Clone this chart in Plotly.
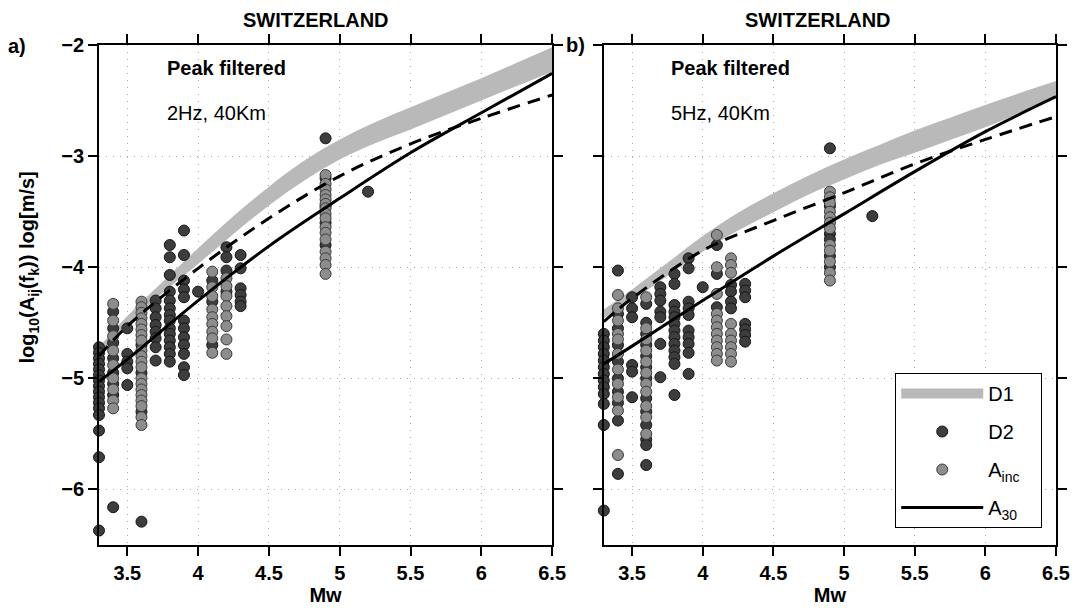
import plotly.graph_objects as go

# ---------------- data ----------------
mw_ticks = [3.5, 4, 4.5, 5, 5.5, 6, 6.5]
mw_tick_text = ["3.5", "4", "4.5", "5", "5.5", "6", "6.5"]
y_ticks = [-2, -3, -4, -5, -6]

# model curves (Mw nodes)
mw_curve = [3.3, 3.5, 4.0, 4.5, 5.0, 5.5, 6.0, 6.5]
# panel a (2 Hz)
a_A30 = [-5.03, -4.83, -4.30, -3.81, -3.38, -2.97, -2.61, -2.255]
a_dash = [-4.80, -4.53, -4.01, -3.56, -3.18, -2.89, -2.66, -2.45]
# panel b (5 Hz)
b_A30 = [-4.87, -4.71, -4.30, -3.90, -3.52, -3.14, -2.78, -2.465]
b_dash = [-4.49, -4.28, -3.85, -3.58, -3.33, -3.07, -2.85, -2.645]

# D1 band edges (finer Mw nodes)
mw_band = [3.3, 3.5, 3.75, 4.0, 4.25, 4.5, 4.75, 5.0, 5.25, 5.5, 5.75, 6.0, 6.25, 6.5]
a_D1_hi = [-4.72, -4.44, -4.13, -3.83, -3.54, -3.275, -3.04, -2.85, -2.695, -2.56, -2.43, -2.30, -2.16, -2.02]
a_D1_lo = [-4.78, -4.52, -4.23, -3.97, -3.70, -3.445, -3.22, -3.03, -2.885, -2.76, -2.63, -2.50, -2.37, -2.24]
b_D1_hi = [-4.38, -4.20, -3.96, -3.72, -3.51, -3.335, -3.175, -3.03, -2.90, -2.77, -2.655, -2.54, -2.43, -2.325]
b_D1_lo = [-4.46, -4.30, -4.08, -3.86, -3.67, -3.505, -3.345, -3.21, -3.08, -2.97, -2.855, -2.74, -2.61, -2.475]

# observations: Mw -> values
a_D2 = {
    3.3: [-4.72, -4.77, -4.82, -4.87, -4.92, -4.97, -5.02, -5.07, -5.12, -5.17, -5.22, -5.27, -5.33, -5.47, -5.71, -6.37],
    3.4: [-4.40, -4.55, -4.68, -4.82, -4.95, -5.05, -5.15, -6.16],
    3.5: [-4.55, -4.78, -4.85, -4.91, -5.06],
    3.6: [-4.70, -4.95, -5.30, -6.29],
    3.7: [-4.30, -4.37, -4.45, -4.52, -4.58, -4.64, -4.72, -4.84],
    3.8: [-3.80, -3.91, -4.07, -4.22, -4.30, -4.37, -4.43, -4.48, -4.55, -4.60, -4.66, -4.72, -4.78, -4.85],
    3.9: [-3.67, -3.89, -4.12, -4.20, -4.27, -4.48, -4.55, -4.63, -4.70, -4.78, -4.90, -4.97],
    4.0: [-4.22],
    4.1: [-4.12, -4.31, -4.70],
    4.2: [-3.82, -3.91, -4.03, -4.22],
    4.3: [-3.89, -4.01, -4.19, -4.25, -4.31, -4.35],
    4.9: [-2.84, -3.20, -3.45, -3.60, -3.80],
    5.2: [-3.32],
}
a_Ainc = {
    3.4: [-4.33, -4.48, -4.62, -4.75, -4.88, -5.00, -5.10, -5.20, -5.27],
    3.6: [-4.31, -4.36, -4.41, -4.46, -4.51, -4.56, -4.61, -4.66, -4.75, -4.80, -4.85, -4.90,
          -5.00, -5.05, -5.10, -5.15, -5.20, -5.25, -5.35, -5.42],
    4.1: [-4.04, -4.18, -4.26, -4.38, -4.45, -4.51, -4.58, -4.64, -4.77],
    4.2: [-4.10, -4.17, -4.26, -4.35, -4.44, -4.53, -4.65, -4.78],
    4.9: [-3.17, -3.25, -3.30, -3.35, -3.39, -3.43, -3.47, -3.52, -3.56, -3.64, -3.69, -3.75,
          -3.86, -3.92, -3.98, -4.06],
}
b_D2 = {
    3.3: [-4.60, -4.66, -4.72, -4.78, -4.84, -4.90, -4.96, -5.02, -5.08, -5.14, -5.23, -5.42, -6.19],
    3.4: [-4.03, -4.42, -4.55, -4.70, -4.85, -5.00, -5.12, -5.22, -5.38, -5.86],
    3.5: [-4.27, -4.37, -4.45, -4.88, -4.94, -5.17],
    3.6: [-4.33, -4.50, -4.60, -4.70, -4.80, -4.90, -5.00, -5.18, -5.30, -5.42, -5.55, -5.60, -5.78],
    3.7: [-4.18, -4.24, -4.30, -4.40, -4.45, -4.69, -4.99],
    3.8: [-4.06, -4.15, -4.34, -4.40, -4.45, -4.51, -4.57, -4.63, -4.69, -4.75, -4.81, -4.87, -5.15],
    3.9: [-3.92, -4.01, -4.31, -4.37, -4.43, -4.57, -4.63, -4.69, -4.77, -4.96],
    4.0: [-4.18],
    4.1: [-3.80, -4.06, -4.36],
    4.2: [-4.16, -4.22, -4.31, -4.37],
    4.3: [-4.15, -4.21, -4.27, -4.51, -4.56, -4.61, -4.67],
    4.9: [-2.93, -3.45, -3.70, -3.75, -3.90, -4.00],
    5.2: [-3.54],
}
b_Ainc = {
    3.4: [-4.25, -4.37, -4.48, -4.60, -4.65, -4.78, -4.92, -5.05, -5.17, -5.29, -5.69],
    3.6: [-4.27, -4.55, -4.65, -4.75, -4.85, -4.95, -5.05, -5.12, -5.25, -5.35, -5.50],
    4.1: [-3.71, -4.00, -4.24, -4.42, -4.48, -4.54, -4.60, -4.66, -4.72, -4.78, -4.84],
    4.2: [-3.92, -3.98, -4.05, -4.51, -4.60, -4.66, -4.72, -4.78, -4.85],
    4.9: [-3.32, -3.37, -3.42, -3.50, -3.55, -3.60, -3.65, -3.80, -3.85, -3.95, -4.05, -4.12],
}

# ---------------- styles ----------------
FONT = "Liberation Sans, Arial, Helvetica, sans-serif"
BAND = "#b9b9b9"
DARK_FILL, DARK_EDGE = "#3d3d3d", "#151515"
GRAY_FILL, GRAY_EDGE = "#8d8d8d", "#3a3a3a"
MSIZE = 11


def flat(d):
    xs, ys = [], []
    for k, vals in d.items():
        xs += [k] * len(vals)
        ys += vals
    return xs, ys


fig = go.Figure()

# legend-only entry for the D1 band
fig.add_trace(go.Scatter(x=[None], y=[None], mode="lines", name="D1",
                         line=dict(color=BAND, width=18), legendgroup="g1"))

panels = [
    ("x", "y", a_D1_lo, a_D1_hi, a_D2, a_Ainc, a_A30, a_dash, True),
    ("x2", "y2", b_D1_lo, b_D1_hi, b_D2, b_Ainc, b_A30, b_dash, False),
]
for xa, ya, lo, hi, d2, ainc, a30, dash, leg in panels:
    fig.add_trace(go.Scatter(x=mw_band, y=lo, xaxis=xa, yaxis=ya, mode="lines",
                             line=dict(width=0, shape="spline", color=BAND),
                             showlegend=False, hoverinfo="skip", legendgroup="g1"))
    fig.add_trace(go.Scatter(x=mw_band, y=hi, xaxis=xa, yaxis=ya, mode="lines",
                             line=dict(width=0, shape="spline", color=BAND),
                             fill="tonexty", fillcolor=BAND,
                             showlegend=False, hoverinfo="skip", legendgroup="g1"))
    xs, ys = flat(d2)
    fig.add_trace(go.Scatter(x=xs, y=ys, xaxis=xa, yaxis=ya, mode="markers", name="D2",
                             marker=dict(size=MSIZE, color=DARK_FILL,
                                         line=dict(color=DARK_EDGE, width=1)),
                             cliponaxis=False, showlegend=leg, legendgroup="g2"))
    xs, ys = flat(ainc)
    fig.add_trace(go.Scatter(x=xs, y=ys, xaxis=xa, yaxis=ya, mode="markers",
                             name="A<sub>inc</sub>&nbsp;&nbsp;&nbsp;",
                             marker=dict(size=MSIZE, color=GRAY_FILL,
                                         line=dict(color=GRAY_EDGE, width=1)),
                             cliponaxis=False, showlegend=leg, legendgroup="g3"))
    fig.add_trace(go.Scatter(x=mw_curve, y=dash, xaxis=xa, yaxis=ya, mode="lines",
                             line=dict(color="black", width=3, dash="13px,8px", shape="spline"),
                             showlegend=False, legendgroup="g5"))
    fig.add_trace(go.Scatter(x=mw_curve, y=a30, xaxis=xa, yaxis=ya, mode="lines",
                             name="A<sub>30</sub>",
                             line=dict(color="black", width=3, shape="spline"),
                             showlegend=leg, legendgroup="g4"))

axis_common = dict(showline=True, linecolor="black", linewidth=1.7, mirror="ticks",
                   ticks="outside", ticklen=9, tickwidth=1.5, tickcolor="black",
                   showgrid=True, gridcolor="#a8a8a8", griddash="1px,6px", gridwidth=1.3,
                   zeroline=False,
                   tickfont=dict(family=FONT, size=20, color="black", weight="bold"))
xtitle = dict(text="<b>Mw</b>", font=dict(family=FONT, size=20, color="black"), standoff=2)

fig.update_layout(
    width=1082, height=612,
    margin=dict(l=99, r=20, t=45, b=67),
    plot_bgcolor="white", paper_bgcolor="white",
    font=dict(family=FONT, color="black"),
    xaxis=dict(domain=[0, 0.4735], range=[3.3, 6.5], tickvals=mw_ticks,
               ticktext=mw_tick_text, title=xtitle, anchor="y", **axis_common),
    yaxis=dict(domain=[0, 1], range=[-6.5, -2], tickvals=y_ticks, anchor="x",
               **axis_common),
    xaxis2=dict(domain=[0.5275, 1], range=[3.3, 6.5], tickvals=mw_ticks,
                ticktext=mw_tick_text, title=xtitle, anchor="y2", **axis_common),
    yaxis2=dict(domain=[0, 1], range=[-6.5, -2], tickvals=y_ticks, anchor="x2",
                showticklabels=False, **axis_common),
    legend=dict(x=0.832, y=0.344, xanchor="left", yanchor="top",
                bordercolor="black", borderwidth=1, bgcolor="white",
                font=dict(family=FONT, size=20, color="black"),
                itemwidth=82, tracegroupgap=9, traceorder="grouped"),
    showlegend=True,
)

ann_font = dict(family=FONT, size=20, color="black")
annotations = [
    dict(text="<b>SWITZERLAND</b>", x=0.2264, y=1.051),
    dict(text="<b>SWITZERLAND</b>", x=0.7518, y=1.051),
    dict(text="<b>a)</b>", x=-0.0862, y=0.998),
    dict(text="<b>b)</b>", x=0.4974, y=1.0),
]
for a in annotations:
    fig.add_annotation(xref="paper", yref="paper", showarrow=False, font=ann_font,
                       xanchor="center", yanchor="middle", **a)
# y-axis title
fig.add_annotation(xref="paper", yref="paper", showarrow=False, textangle=-90,
                   x=-0.0737, y=0.556, xanchor="center", yanchor="middle",
                   font=dict(family=FONT, size=20, color="black"),
                   text="<b>log<sub>10</sub>(A<sub>ij</sub>(f<sub>k</sub>)) log[m/s]</b>")
texts = [
    ("<b>Peak filtered</b>", 0.0685, 0.954),
    ("2Hz, 40Km", 0.0685, 0.864),
    ("<b>Peak filtered</b>", 0.5961, 0.954),
    ("5Hz, 40Km", 0.5961, 0.864),
]
for t, x, y in texts:
    fig.add_annotation(xref="paper", yref="paper", showarrow=False, font=ann_font,
                       xanchor="left", yanchor="middle", text=t, x=x, y=y)

fig.write_html("out.html")
